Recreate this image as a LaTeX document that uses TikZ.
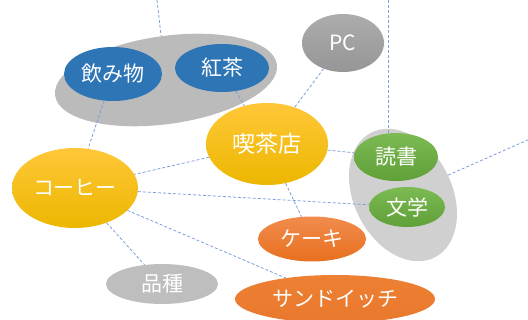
\documentclass[tikz,border=0pt]{standalone}
\usepackage{fontspec}
\newfontfamily\jp{Noto Sans CJK JP}
\usetikzlibrary{shapes.geometric}
\definecolor{blueF}{HTML}{2E75B6}
\definecolor{grpA}{HTML}{BBBBBB}
\definecolor{grpB}{HTML}{D0D0D0}
\definecolor{linkC}{HTML}{7F9FD8}
\definecolor{yelT}{RGB}{255,199,56}
\definecolor{yelB}{RGB}{236,183,0}
\definecolor{orgT}{RGB}{241,140,78}
\definecolor{orgB}{RGB}{232,112,30}
\definecolor{orgST}{RGB}{237,128,52}
\definecolor{orgSB}{RGB}{233,120,44}
\definecolor{grnT}{RGB}{124,186,84}
\definecolor{grnB}{RGB}{96,160,56}
\definecolor{grayF}{RGB}{190,190,190}
\definecolor{pcT}{RGB}{172,172,172}
\definecolor{pcB}{RGB}{150,150,150}
\tikzset{
  bub/.style={ellipse, inner sep=0pt, text=white, font=\jp\fontsize{21}{21}\selectfont},
  bluebub/.style={bub, fill=blueF},
  yelbub/.style={bub, top color=yelT, bottom color=yelB},
  orgbub/.style={bub, top color=orgT, bottom color=orgB},
  grnbub/.style={bub, top color=grnT, bottom color=grnB},
  graybub/.style={bub, fill=grayF},
  pcbub/.style={bub, top color=pcT, bottom color=pcB},
  grp/.style={ellipse, inner sep=0pt},
  link/.style={draw=linkC, line width=0.8pt, dash pattern=on 3pt off 2pt}
}
\begin{document}
\begin{tikzpicture}[x=1pt, y=-1pt]
\useasboundingbox (0,0) rectangle (528,320);
\clip (0,0) rectangle (528,320);
% groups
\node[grp, fill=grpA, minimum width=224pt, minimum height=88pt, rotate=8] (g1) at (166,80) {};
\node[grp, fill=grpB, minimum width=140pt, minimum height=98pt, rotate=-63] (g2) at (403,195) {};
% bubbles
\node[bluebub, minimum width=98pt, minimum height=54pt] (nomimono) at (113,74) {飲み物};
\node[bluebub, minimum width=94pt, minimum height=48pt] (kocha) at (222,68) {紅茶};
\node[pcbub, minimum width=82pt, minimum height=58pt] (pc) at (343,43) {PC};
\node[yelbub, minimum width=122pt, minimum height=82pt, font=\jp\fontsize{23}{23}\selectfont] (kissa) at (267,144) {喫茶店};
\node[yelbub, minimum width=126pt, minimum height=80pt] (coffee) at (75,188) {コーヒー};
\node[grnbub, minimum width=84pt, minimum height=48pt] (dokusho) at (396,157) {読書};
\node[grnbub, minimum width=76pt, minimum height=40pt] (bungaku) at (407,207) {文学};
\node[orgbub, minimum width=108pt, minimum height=45pt] (cake) at (312,239) {ケーキ};
\node[graybub, minimum width=112pt, minimum height=40pt] (hinshu) at (162,284) {品種};
\node[bub, minimum width=200pt, minimum height=48pt, top color=orgST, bottom color=orgSB] (sand) at (335,299) {サンドイッチ};
% free ends
\coordinate (topL) at (157,0);
\coordinate (topR) at (388,0);
\coordinate (rightE) at (530,139);
% links
\draw[link] (topL) -- (g1);
\draw[link] (topR) -- (topR |- dokusho.north);
\draw[link] (nomimono) -- (coffee);
\draw[link] (kocha) -- (kissa);
\draw[link] (pc) -- (kissa);
\draw[link] (kissa) -- (dokusho);
\draw[link] (kissa) -- (coffee);
\draw[link] (kissa) -- (cake);
\draw[link] (coffee) -- (bungaku);
\draw[link] (coffee) -- (sand);
\draw[link] (coffee) -- (hinshu);
\draw[link] (g2) -- (rightE);
\end{tikzpicture}
\end{document}
